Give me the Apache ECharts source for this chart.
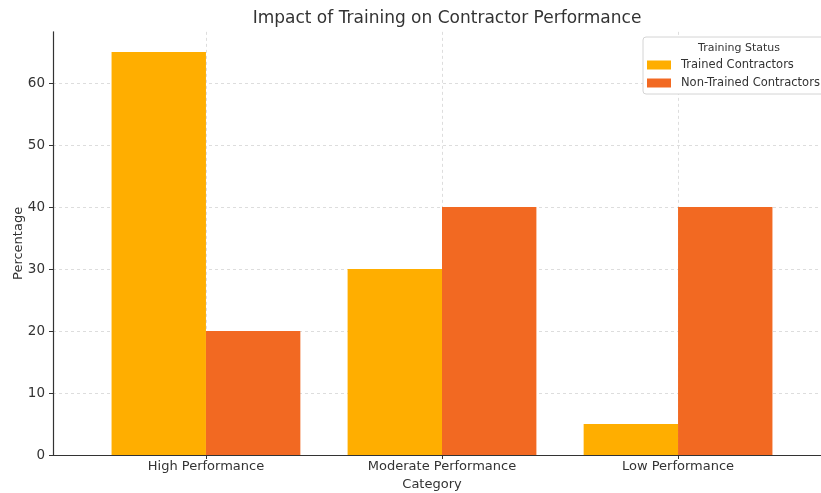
<!DOCTYPE html>
<html>
<head>
<meta charset="utf-8">
<script src="https://cdn.jsdelivr.net/npm/echarts@6/dist/echarts.min.js"></script>
<style>html,body{margin:0;padding:0;background:#fff}#c{width:821px;height:493px}</style>
</head>
<body>
<div id="c"></div>
<script>
const categories = ['High Performance', 'Moderate Performance', 'Low Performance'];
const trained = [65, 30, 5];
const nonTrained = [20, 40, 40];
const yTicks = [0, 10, 20, 30, 40, 50, 60];
const seriesNames = ['Trained Contractors', 'Non-Trained Contractors'];

const catIdx = categories.map((_, i) => i);
const font = 'DejaVu Sans';
const chart = echarts.init(document.getElementById('c'), null, {renderer: 'canvas'});
chart.setOption({
  animation: false,
  textStyle: {fontFamily: font},
  title: [
    {text: 'Impact of Training on Contractor Performance', left: 442, top: 5, textAlign: 'center',
     textStyle: {fontSize: 17, fontWeight: 'normal', color: '#333', fontFamily: font}},
    {text: 'Training Status', left: 734, top: 38, textAlign: 'center', z: 10,
     textStyle: {fontSize: 11, fontWeight: 'normal', color: '#333', fontFamily: font}}
  ],
  legend: {
    orient: 'vertical', left: 643, top: 37,
    padding: [22, 10, 5, 4], itemGap: 6,
    itemWidth: 24, itemHeight: 9, icon: 'rect',
    backgroundColor: '#fff', borderColor: '#d4d4d4', borderWidth: 1, borderRadius: 3,
    textStyle: {fontSize: 11.5, color: '#333', fontFamily: font, padding: [0, 0, 0, 5]},
    data: seriesNames
  },
  grid: {left: 53, top: 31.85, width: 778, bottom: 38, containLabel: false, outerBoundsMode: 'none'},
  xAxis: {
    type: 'value', min: -0.648, max: 2.648,
    name: 'Category', nameLocation: 'middle', nameGap: 23,
    nameTextStyle: {fontSize: 13, color: '#333', fontFamily: font, padding: [0, 0, 0, -20]},
    axisLine: {show: true, onZero: false, lineStyle: {color: '#333', width: 1.2}},
    axisTick: {show: true, customValues: catIdx, length: 4, lineStyle: {color: '#333'}},
    axisLabel: {customValues: catIdx, formatter: v => categories[Math.round(v)] || '',
      fontSize: 13, color: '#333', margin: 5, fontFamily: font},
    splitLine: {show: true, customValues: catIdx, lineStyle: {color: '#ddd', type: [3, 3], width: 1}}
  },
  yAxis: {
    type: 'value', min: 0, max: 68.25,
    name: 'Percentage', nameLocation: 'middle', nameGap: 28, nameMoveOverlap: false,
    nameTextStyle: {fontSize: 13, color: '#333', fontFamily: font},
    axisLine: {show: true, onZero: false, lineStyle: {color: '#333', width: 1.2}},
    axisTick: {show: true, customValues: yTicks, length: 4, lineStyle: {color: '#333'}},
    axisLabel: {customValues: yTicks, fontSize: 13.5, color: '#333', margin: 8, fontFamily: font},
    splitLine: {show: true, customValues: yTicks, lineStyle: {color: '#ddd', type: [3, 3], width: 1}}
  },
  series: [
    {name: seriesNames[0], type: 'bar', barWidth: 94.4, barGap: '0%',
     itemStyle: {color: '#FFAE00'},
     data: trained.map((v, i) => [catIdx[i], v])},
    {name: seriesNames[1], type: 'bar', barWidth: 94.4, barGap: '0%',
     itemStyle: {color: '#F26922'},
     data: nonTrained.map((v, i) => [catIdx[i], v])}
  ]
});
</script>
</body>
</html>
